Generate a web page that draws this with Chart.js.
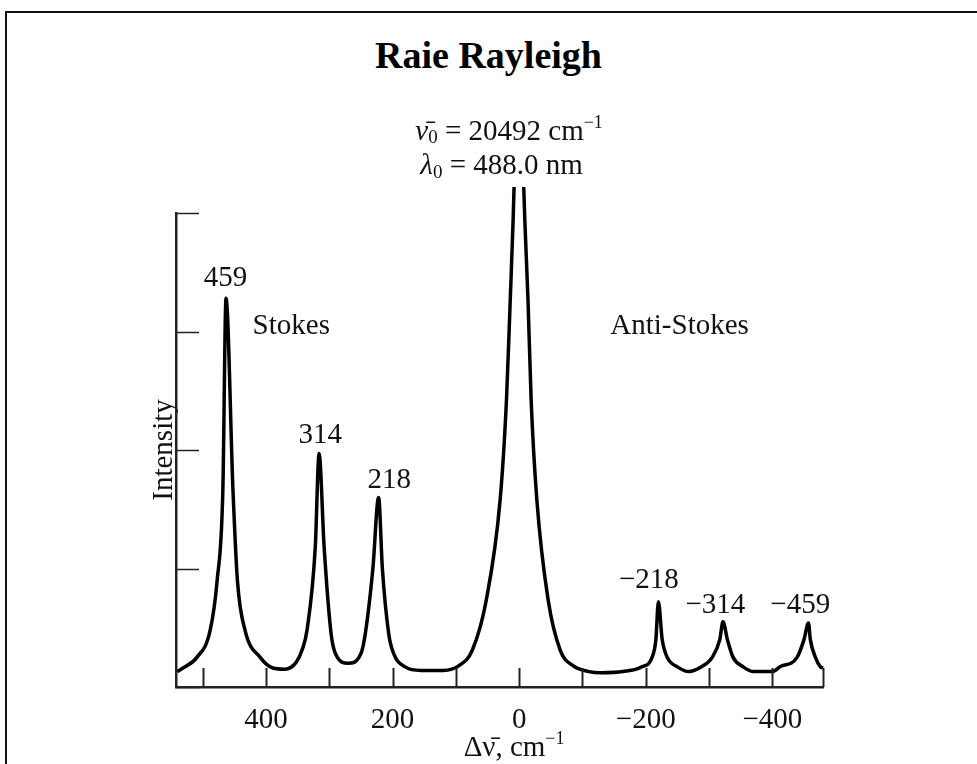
<!DOCTYPE html>
<html lang="fr">
<head>
<meta charset="UTF-8" />
<title>Raie Rayleigh</title>
<style>
  html,body{margin:0;padding:0;background:#fff;overflow:hidden;}
  body{width:977px;height:764px;position:relative;}
  .frame{position:absolute;left:5px;top:11px;width:1000px;height:800px;border:2px solid #111;box-sizing:border-box;}
  h1{position:absolute;left:0;top:31px;width:977px;margin:0;text-align:center;
     font:bold 38px/48px "Liberation Serif","Times New Roman",serif;color:#000;}
  #spectre{position:absolute;left:0;top:0;}
</style>
<script src="https://cdn.jsdelivr.net/npm/chart.js@4.4.0/dist/chart.umd.min.js"></script>
</head>
<body>
<div class="frame"></div>
<h1>Raie Rayleigh</h1>
<canvas id="spectre" width="977" height="764"></canvas>

<script>
// ----- données -----
// décalage Raman (cm-1), axe inversé
const shift = [540, 531, 509, 488, 477, 468, 463, 452, 445, 433, 409, 389, 370, 352, 343, 335, 322, 316, 308, 297, 290,
  270, 250, 243, 231, 222, 216, 206, 198, 180, 155, 120, 95, 74, 52, 30, 20, 14, 9.5, 6, 1,
  -5, -9, -14, -19, -28, -46, -65, -85, -110, -130, -164, -194, -210, -216, -220, -226, -234, -250, -268, -288,
  -305, -317, -322, -329, -338, -354, -370, -400, -412, -439, -450, -457, -460, -468, -476, -480];
const intensity = [0.13, 0.16, 0.25, 0.48, 0.90, 1.66, 3.28, 1.66, 0.90, 0.48, 0.25, 0.16, 0.15, 0.21, 0.31, 0.48, 1.18, 1.97, 1.18, 0.45, 0.28,
  0.20, 0.28, 0.45, 1.00, 1.60, 1.00, 0.45, 0.28, 0.17, 0.14, 0.14, 0.18, 0.31, 0.73, 1.58, 2.42, 3.27, 3.94, 4.6, 6.0,
  4.6, 3.94, 3.27, 2.42, 1.58, 0.73, 0.31, 0.18, 0.13, 0.12, 0.13, 0.17, 0.25, 0.40, 0.72, 0.40, 0.25, 0.17, 0.13, 0.17,
  0.25, 0.40, 0.55, 0.40, 0.25, 0.17, 0.13, 0.13, 0.17, 0.25, 0.40, 0.54, 0.40, 0.25, 0.17, 0.16];

const xTickValues = [500, 400, 300, 200, 100, 0, -100, -200, -300, -400];
const xLabelled = [400, 200, 0, -200, -400];
const yTickValues = [0, 1, 2, 3, 4];

// étiquettes des raies
const peakNames = ['459', '314', '218', '−218', '−314', '−459'];
const peakNameX = [464, 314, 205, -205, -310, -444];
const peakNameY = [3.45, 2.12, 1.74, 0.90, 0.69, 0.69];

const SERIF = '"Liberation Serif","Times New Roman","DejaVu Serif",serif';
const f = (s, st) => (st ? st + ' ' : '') + s + 'px ' + SERIF;

function drawRich(ctx, x, y, parts, align){
  let w = 0;
  parts.forEach(p => { ctx.font = p.font; p.w = ctx.measureText(p.t).width; w += p.w; });
  let cx = align === 'center' ? x - w / 2 : x;
  ctx.textAlign = 'left';
  parts.forEach(p => { ctx.font = p.font; ctx.fillText(p.t, cx, y + (p.dy || 0)); cx += p.w; });
}

// petits traits de graduation vers l'intérieur + textes
const decor = {
  id: 'decor',
  afterDraw(chart){
    const {ctx, chartArea: a, scales: {x, y}} = chart;
    ctx.save();
    ctx.strokeStyle = '#222';
    ctx.lineWidth = 2;
    xTickValues.concat([x.min]).forEach(v => {
      const p = Math.round(x.getPixelForValue(v)) + 0.5;
      ctx.beginPath(); ctx.moveTo(p, a.bottom); ctx.lineTo(p, a.bottom - 19); ctx.stroke();
    });
    ctx.lineWidth = 1.5;
    yTickValues.forEach(v => {
      const p = Math.round(y.getPixelForValue(v)) + 0.5;
      ctx.beginPath(); ctx.moveTo(a.left, p); ctx.lineTo(a.left + 23, p); ctx.stroke();
    });

    ctx.fillStyle = '#111';
    ctx.textBaseline = 'middle';
    ctx.textAlign = 'center';
    ctx.font = f(29);
    peakNames.forEach((t, i) => ctx.fillText(t, x.getPixelForValue(peakNameX[i]), y.getPixelForValue(peakNameY[i])));

    ctx.textAlign = 'left';
    ctx.fillText('Stokes', x.getPixelForValue(421), y.getPixelForValue(3.04));
    ctx.fillText('Anti-Stokes', x.getPixelForValue(-144), y.getPixelForValue(3.04));

    // raie excitatrice
    drawRich(ctx, x.getPixelForValue(164), y.getPixelForValue(4.68), [
      {t: 'ν̄', font: f(29, 'italic')}, {t: '0', font: f(19), dy: 6},
      {t: ' = 20492 cm', font: f(29)}, {t: '−1', font: f(18), dy: -9}
    ]);
    drawRich(ctx, x.getPixelForValue(156), y.getPixelForValue(4.39), [
      {t: 'λ', font: f(29, 'italic')}, {t: '0', font: f(19), dy: 6},
      {t: ' = 488.0 nm', font: f(29)}
    ]);

    // titre de l'axe x
    drawRich(ctx, x.getPixelForValue(8), a.bottom + 61, [
      {t: 'Δν̄, cm', font: f(29)}, {t: '−1', font: f(18), dy: -9}
    ], 'center');
    ctx.restore();
  }
};

new Chart(document.getElementById('spectre'), {
  type: 'line',
  data: {
    datasets: [{
      data: shift.map((s, i) => ({x: s, y: intensity[i]})),
      borderColor: '#000',
      borderWidth: 3.5,
      pointRadius: 0,
      fill: false,
      cubicInterpolationMode: 'monotone',
      clip: {left: 4, top: 26, right: 6, bottom: 4}
    }]
  },
  options: {
    responsive: false,
    animation: false,
    events: [],
    layout: {padding: {left: 143, right: 154, top: 213, bottom: 0}},
    plugins: {legend: {display: false}, tooltip: {enabled: false}},
    scales: {
      x: {
        type: 'linear',
        reverse: true,
        min: -480,
        max: 542,
        grid: {display: false},
        border: {display: true, color: '#222', width: 2.5},
        afterBuildTicks: s => { s.ticks = xLabelled.map(v => ({value: v})); },
        afterFit: s => { s.height = 77; },
        ticks: {
          autoSkip: false, maxRotation: 0, padding: 8, color: '#111',
          font: {family: SERIF, size: 29},
          callback: v => (v < 0 ? '−' + Math.abs(v) : String(v))
        }
      },
      y: {
        min: 0,
        max: 4,
        grid: {display: false},
        border: {display: true, color: '#222', width: 2.5},
        afterFit: s => { s.width = 33; },
        ticks: {display: false},
        title: {display: true, text: 'Intensity', color: '#111', font: {family: SERIF, size: 29}, padding: {top: 4, bottom: 4}}
      }
    }
  },
  plugins: [decor]
});
</script>
</body>
</html>
